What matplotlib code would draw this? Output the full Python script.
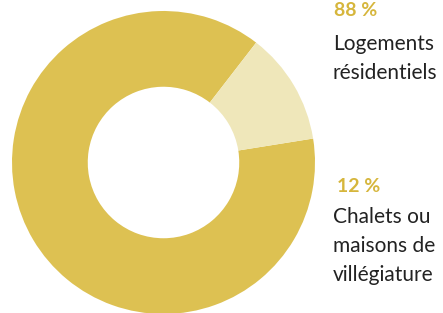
import matplotlib
matplotlib.use("Agg")
import matplotlib.pyplot as plt

labels = ["Logements\nrésidentiels", "Chalets ou\nmaisons de\nvillégiature"]
values = [88, 12]
pct_labels = ["88 %", "12 %"]
colors = ["#ddc152", "#efe7ba"]

plt.rcParams['font.family'] = ['Lato', 'DejaVu Sans']

fig = plt.figure(figsize=(4.43, 3.13), dpi=100)
ax = fig.add_axes([12/443, -1/313, 303/443, 303/313])
ax.pie(values, colors=colors, startangle=52.3, counterclock=True,
       wedgeprops=dict(width=0.5, linewidth=0))
ax.set_xlim(-1, 1)
ax.set_ylim(-1, 1)
ax.set_aspect('equal')
ax.axis('off')

def fy(y):
    return 1 - y / 313

def fx(x):
    return x / 443

fig.text(fx(334), fy(11), pct_labels[0], color="#d6b63c", fontsize=14,
         fontweight='bold', va='center', ha='left')
fig.text(fx(333), fy(44), "Logements", color="#222222", fontsize=15, va='center', ha='left')
fig.text(fx(333), fy(73), "résidentiels", color="#222222", fontsize=15, va='center', ha='left')

fig.text(fx(337), fy(187), pct_labels[1], color="#d6b63c", fontsize=14,
         fontweight='bold', va='center', ha='left')
for i, line in enumerate(["Chalets ou", "maisons de", "villégiature"]):
    fig.text(fx(333), fy(217 + 29 * i), line, color="#222222", fontsize=15,
             va='center', ha='left')

fig.savefig("out.png", dpi=100)
